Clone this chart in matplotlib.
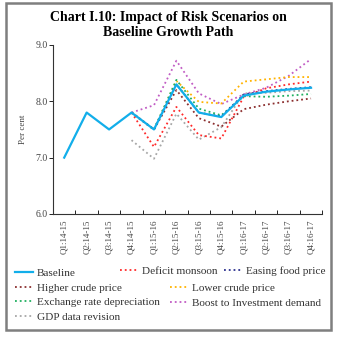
import numpy as np
import matplotlib
matplotlib.use('Agg')
import matplotlib.pyplot as plt
from matplotlib.lines import Line2D
from matplotlib.patches import Rectangle

plt.rcParams['font.family'] = ['Liberation Serif', 'DejaVu Serif']

quarters = ['Q1:14-15', 'Q2:14-15', 'Q3:14-15', 'Q4:14-15',
            'Q1:15-16', 'Q2:15-16', 'Q3:15-16', 'Q4:15-16',
            'Q1:16-17', 'Q2:16-17', 'Q3:16-17', 'Q4:16-17']

# scenario paths start at Q4:14-15 (index 3)
baseline = [7.0, 7.8, 7.5, 7.8, 7.5, 8.3, 7.8, 7.72, 8.1, 8.17, 8.21, 8.24]
deficit_monsoon = [7.8, 7.19, 7.9, 7.4, 7.34, 8.08, 8.23, 8.3, 8.35]
easing_food = [7.8, 7.5, 8.3, 7.8, 7.73, 8.12, 8.18, 8.22, 8.25]
higher_crude = [7.8, 7.5, 8.2, 7.7, 7.55, 7.86, 7.94, 8.0, 8.05]
lower_crude = [7.8, 7.5, 8.36, 7.99, 7.96, 8.35, 8.39, 8.43, 8.43]
exchange_rate = [7.8, 7.5, 8.38, 7.87, 7.75, 8.09, 8.08, 8.1, 8.13]
boost_invest = [7.8, 7.93, 8.72, 8.14, 7.95, 8.12, 8.24, 8.45, 8.75]
gdp_revision = [7.31, 6.98, 7.78, 7.32, 7.54, 8.14, 8.15, 8.18, 8.19]

scenarios = [
    ('GDP data revision', gdp_revision, '#a6a6a6'),
    ('Higher crude price', higher_crude, '#8b2e2e'),
    ('Deficit monsoon', deficit_monsoon, '#ff2a2a'),
    ('Boost to Investment demand', boost_invest, '#c15cc4'),
    ('Lower crude price', lower_crude, '#ffb300'),
    ('Exchange rate depreciation', exchange_rate, '#20b060'),
    ('Easing food price', easing_food, '#2b2f8f'),
]

fig = plt.figure(figsize=(3.43, 3.38), dpi=100)
ax = fig.add_axes([0.1545, 0.367, 0.785, 0.5])

x_all = np.arange(len(quarters))
x_sc = x_all[3:]
for name, vals, col in scenarios:
    ax.plot(x_sc, vals, linestyle=':', color=col, linewidth=1.3)
ax.plot(x_all, baseline, color='#12aeea', linewidth=1.6)

ax.set_xlim(-0.5, len(quarters) - 0.5)
ax.set_ylim(6.0, 9.0)
ax.set_yticks([6.0, 7.0, 8.0, 9.0])
ax.set_yticklabels(['6.0', '7.0', '8.0', '9.0'], fontsize=7, color='#444444')
ax.set_xticks(x_all)
ax.set_xticklabels(quarters, rotation=90, fontsize=6.5, color='#444444')
ax.set_xticks(np.arange(-0.5, len(quarters)), minor=True)
ax.tick_params(axis='x', which='major', length=0, pad=4)
ax.tick_params(axis='x', which='minor', length=3, width=0.6, direction='in')
ax.tick_params(axis='y', length=3, width=0.6, pad=1)
for s in ['top', 'right']:
    ax.spines[s].set_visible(False)
for s in ['left', 'bottom']:
    ax.spines[s].set_linewidth(0.8)
    ax.spines[s].set_color('#333333')
ax.set_ylabel('Per cent', fontsize=6.5, color='#444444', labelpad=6)

fig.text(0.49, 0.925, 'Chart I.10: Impact of Risk Scenarios on\nBaseline Growth Path',
         ha='center', va='center', fontsize=10, fontweight='bold', linespacing=1.2)

# legend entries, placed individually like the original layout
legend_pos = {
    'Baseline': (15, 273),
    'Deficit monsoon': (120, 271),
    'Easing food price': (224, 271),
    'Higher crude price': (15, 288),
    'Lower crude price': (170, 288),
    'Exchange rate depreciation': (15, 302),
    'Boost to Investment demand': (170, 303),
    'GDP data revision': (15, 317),
}
styles = {name: (col, ':', 1.3) for name, vals, col in scenarios}
styles['Baseline'] = ('#12aeea', '-', 1.6)
W, H = 343, 338
for name, (px, py) in legend_pos.items():
    col, ls, lw = styles[name]
    h = Line2D([], [], color=col, linestyle=ls, linewidth=lw)
    fig.legend([h], [name], loc='center left', bbox_to_anchor=(px / W, 1 - py / H),
               frameon=False, fontsize=8.1, handlelength=1.6, handletextpad=0.35,
               borderpad=0, borderaxespad=0, labelcolor='#333333')

fig.patches.append(Rectangle((6 / W, 1 - 330 / H), 325 / W, 327 / H, transform=fig.transFigure,
                             fill=False, edgecolor='#7f7f7f', linewidth=1.8))

fig.savefig('out.png', dpi=100)
